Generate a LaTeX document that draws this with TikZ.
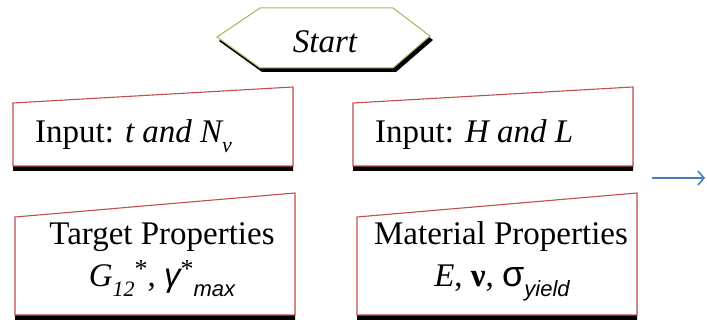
\documentclass[tikz,border=0pt]{standalone}
\usepackage{fontspec}
\setmainfont{Liberation Serif}
\newfontfamily\arialf{Liberation Sans}
\usetikzlibrary{arrows.meta}
\definecolor{boxred}{RGB}{192,80,77}
\definecolor{hexgreen}{RGB}{155,187,89}
\definecolor{arrblue}{RGB}{74,126,187}
\newcommand\mysub[1]{\raisebox{-0.28em}{\fontsize{22}{24}\selectfont #1}}
\newcommand\mysup[1]{\raisebox{0.28em}{\fontsize{26}{28}\selectfont #1}}
\tikzset{
  inbox/.style={draw=boxred, line width=1.1pt, fill=white},
  hexbox/.style={draw=hexgreen, line width=1pt, fill=white},
  lbl/.style={inner sep=0pt, font=\fontsize{33}{38}\selectfont},
  flow/.style={draw=arrblue, line width=1.2pt, -{Straight Barb[length=6pt,width=14pt,line width=1.6pt]}}
}
\begin{document}
\begin{tikzpicture}[x=1pt,y=-1pt]
\useasboundingbox (0,0) rectangle (707,320);
\fill[white] (0,0) rectangle (707,320);
% Start hexagon
\fill[black] (219,41) -- (262,12) -- (396,12) -- (433,40) -- (396,72) -- (262,72) -- cycle;
\path[hexbox] (217,37) -- (260,8) -- (393,8) -- (430,36) -- (393,68) -- (260,68) -- cycle;
\node[lbl, anchor=base] (start) at (325,53) {\itshape Start};
% Box 1
\fill[black] (13,108) -- (293,92) -- (293,171) -- (13,171) -- cycle;
\path[inbox] (13,103) -- (293,87) -- (293,166) -- (13,166) -- cycle;
\node[lbl, anchor=base west] (in1) at (35,143) {Input: {\itshape t and N}\mysub{\itshape v}};
% Box 2
\fill[black] (353,108) -- (633,92) -- (633,171) -- (353,171) -- cycle;
\path[inbox] (353,103) -- (633,87) -- (633,166) -- (353,166) -- cycle;
\node[lbl, anchor=base west] (in2) at (375,143) {Input: {\itshape H and L}};
% Box 3
\fill[black] (15,222) -- (295,198) -- (295,321) -- (15,321) -- cycle;
\path[inbox] (15,217) -- (295,193) -- (295,315) -- (15,315) -- cycle;
\node[lbl, anchor=base] (tgt1) at (162,245) {Target Properties};
\node[lbl, anchor=base] (tgt2) at (162,287) {{\itshape G}\mysub{\itshape 12}\mysup{*}, {\arialf\itshape γ}\mysup{*}\mysub{\arialf\itshape max}};
% Box 4
\fill[black] (357,222) -- (637,198) -- (637,321) -- (357,321) -- cycle;
\path[inbox] (357,217) -- (637,193) -- (637,315) -- (357,315) -- cycle;
\node[lbl, anchor=base] (mat1) at (501,245) {Material Properties};
\node[lbl, anchor=base] (mat2) at (502,287) {{\itshape E}, \textbf{ν}, {\arialf\fontsize{36}{38}\selectfont σ}\mysub{\arialf\itshape yield}};
% Arrow
\coordinate (a1) at (652,178);
\coordinate (a2) at (705,178);
\draw[flow] (a1) -- (a2);
\end{tikzpicture}
\end{document}
